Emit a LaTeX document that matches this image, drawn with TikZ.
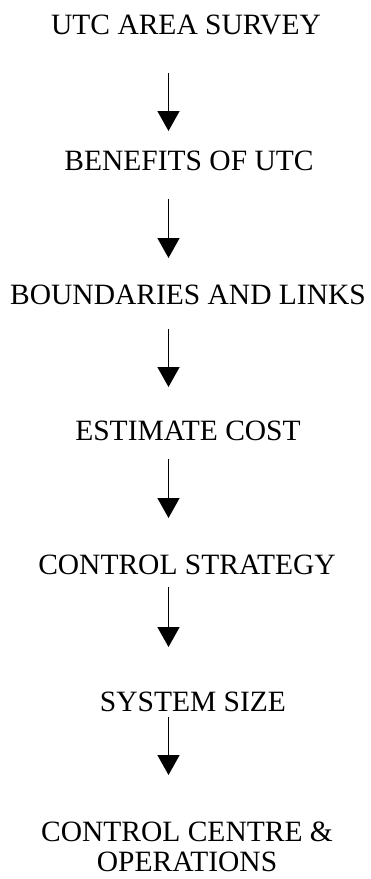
\documentclass[tikz,border=0pt]{standalone}
\usepackage{fontspec}
\setmainfont{Liberation Serif}
\usetikzlibrary{arrows.meta}
\begin{document}
\begin{tikzpicture}[x=1bp,y=-1bp,
  lbl/.style={inner sep=0pt,outer sep=0pt,anchor=base,align=center,font=\fontsize{29.5bp}{30bp}\selectfont},
  arr/.style={line width=1.5bp,-{Triangle[width=22bp,length=20bp]}}]
\useasboundingbox (0,0) rectangle (370,879);
\node[lbl] (n1) at (186,34) {UTC AREA SURVEY};
\node[lbl] (n2) at (189,170) {BENEFITS OF UTC};
\node[lbl] (n3) at (188,304) {BOUNDARIES AND LINKS};
\node[lbl] (n4) at (188,440) {ESTIMATE COST};
\node[lbl] (n5) at (187,574) {CONTROL STRATEGY};
\node[lbl] (n6) at (193,711) {SYSTEM SIZE};
\node[lbl] (n7) at (187,871) {CONTROL CENTRE \&\\OPERATIONS};
\foreach \i/\s/\e in {1/73/131,2/199/258,3/329/387,4/459/518,5/587/647,6/717/775}{
  \coordinate (s\i) at (168.5,\s);
  \coordinate (e\i) at (168.5,\e);
  \draw[arr] (s\i) -- (e\i);
}
\end{tikzpicture}
\end{document}
